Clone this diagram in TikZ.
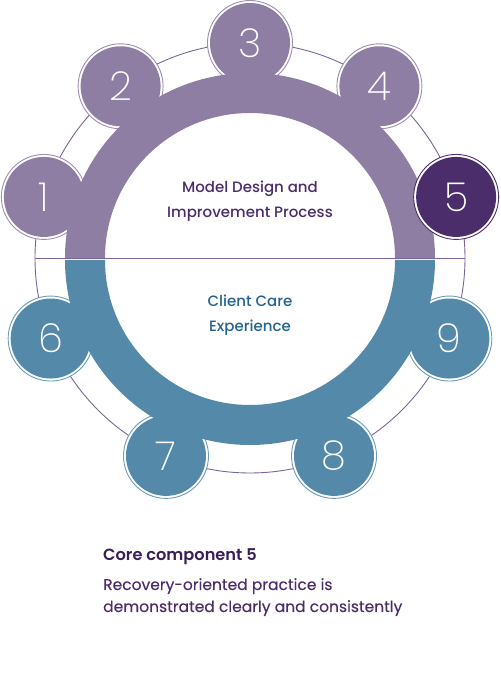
\documentclass[tikz,border=0pt]{standalone}
\usepackage{fontspec}
\setmainfont{Poppins}[FakeBold=0.2]
\IfFontExistsTF{Poppins Medium}
  {\newfontfamily\midfont{Poppins Medium}}
  {\newfontfamily\midfont{Poppins}[FakeBold=1]}
\IfFontExistsTF{Poppins SemiBold}
  {\newfontfamily\headfont{Poppins SemiBold}}
  {\newfontfamily\headfont{Poppins}[FakeBold=1.5]}
\IfFontExistsTF{Poppins ExtraLight}
  {\newfontfamily\numfont{Poppins ExtraLight}}
  {\IfFontExistsTF{Poppins Light}
    {\newfontfamily\numfont{Poppins Light}}
    {\newfontfamily\numfont{Poppins}}}

\definecolor{mauve}{HTML}{8E7EA3}
\definecolor{mauveline}{HTML}{9D8DB5}
\definecolor{plum}{HTML}{4B2D6B}
\definecolor{steel}{HTML}{5589A9}
\definecolor{steelline}{HTML}{6A9CBC}
\definecolor{ringline}{HTML}{7A659A}
\definecolor{plumtext}{HTML}{4A2C6B}
\definecolor{headtext}{HTML}{3A1E57}
\definecolor{steeltext}{HTML}{23638F}

\tikzset{
  halo/.style={circle, minimum size=85pt, inner sep=0pt, fill=white, draw=#1, line width=0.9pt},
  disc/.style={circle, minimum size=80pt, inner sep=0pt, fill=#1, text=white, font=\numfont\fontsize{40}{40}\selectfont},
}

\begin{document}
\begin{tikzpicture}[x=1pt, y=1pt]

    \useasboundingbox (-250,258) rectangle (250,-442);

    \draw[ringline, line width=0.9pt] (0,0) circle (215);
    \coordinate (west) at (180:215);
    \coordinate (east) at (0:215);

    \begin{scope}[]
    \node[halo=mauveline] (h1) at (163.5:215) {};
    \node[halo=mauveline] (h2) at (127:215) {};
    \node[halo=mauveline] (h3) at (90:215) {};
    \node[halo=mauveline] (h4) at (53:215) {};
    \node[halo=steelline] (h6) at (202:215) {};
    \node[halo=steelline] (h7) at (247:215) {};
    \node[halo=steelline] (h8) at (293:215) {};
    \node[halo=steelline] (h9) at (338:215) {};
    \end{scope}

    \fill[mauve] (0:185) arc (0:180:185) -- (180:145) arc (180:0:145) -- cycle;
    \fill[steel] (0,-2) ++(0:185) arc (0:-180:185) -- ++(0:40) arc (-180:0:145) -- cycle;

    \draw[ringline, line width=0.9pt] (west) -- (east);

    \begin{scope}[]
    \node[disc=mauve] (n1) at (h1) {1};
    \node[disc=mauve] (n2) at (h2) {2};
    \node[disc=mauve] (n3) at (h3) {3};
    \node[disc=mauve] (n4) at (h4) {4};
    \node[disc=steel] (n6) at (h6) {6};
    \node[disc=steel] (n7) at (h7) {7};
    \node[disc=steel] (n8) at (h8) {8};
    \node[disc=steel] (n9) at (h9) {9};
    \end{scope}

    \node[halo=plum] (h5) at (16.5:215) {};
    \node[disc=plum] (n5) at (h5) {5};

    \node[align=center, text=plumtext, font=\midfont\fontsize{15}{25}\selectfont] (design) at (0,57) {Model Design and\\Improvement Process};
    \node[align=center, text=steeltext, font=\midfont\fontsize{15}{25}\selectfont] (care) at (0,-57) {Client Care\\Experience};

    \node[anchor=west, inner sep=0pt, text=headtext, font=\headfont\fontsize{16.2}{20}\selectfont] (core) at (-147,-299) {Core component 5};
    \node[anchor=north west, align=left, inner sep=0pt, text=plumtext, font=\fontsize{15.5}{22}\selectfont] (desc) at (-147,-320) {Recovery-oriented practice is\\demonstrated clearly and consistently};

\end{tikzpicture}
\end{document}
